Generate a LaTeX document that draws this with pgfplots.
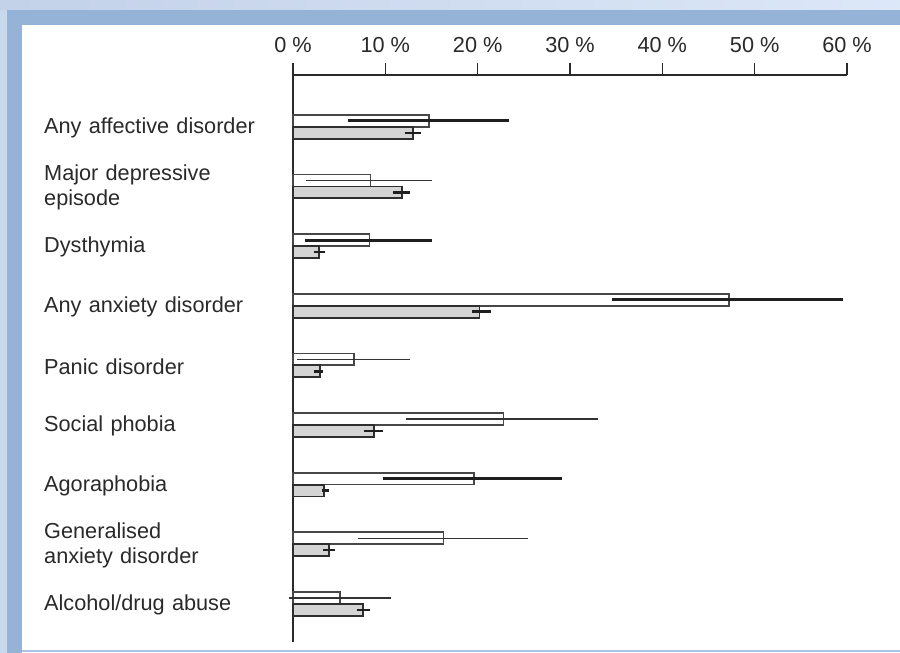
\documentclass[border=0pt]{standalone}
\usepackage{pgfplots}
\pgfplotsset{compat=1.18}
\usepackage{pgfplotstable}
\usepackage{fontspec}
\setmainfont{Liberation Sans}
\definecolor{frameblue}{HTML}{95B3D7}
\definecolor{lightblueA}{HTML}{C3D1E9}
\definecolor{lightblueB}{HTML}{DCE8F8}
\definecolor{lineblue}{HTML}{A9C4E6}
\definecolor{txt}{HTML}{2A2A2A}
\definecolor{greybar}{HTML}{D4D4D4}

% p = position (8 = top category), val = bar value, lo/hi = interval
\pgfplotstableread{
p val lo hi
8 14.7 6.0 23.4
6 8.3 1.3 15.1
5 47.2 34.6 59.6
2 19.6 9.8 29.1
}\whiteThick
\pgfplotstableread{
p val lo hi
7 8.4 1.4 15.0
4 6.6 0.4 12.7
3 22.8 12.2 33.0
1 16.3 7.0 25.4
0 5.1 -0.4 10.6
}\whiteThin
\pgfplotstableread{
p val lo hi
8 13.0 12.1 13.9
7 11.85 10.8 12.7
6 2.85 2.3 3.5
5 20.2 19.4 21.4
4 2.9 2.3 3.3
3 8.8 7.7 9.7
2 3.4 3.1 3.9
1 3.9 3.25 4.55
0 7.6 6.9 8.3
}\greyData

\begin{document}
\begin{tikzpicture}[x=1pt,y=1pt]
\useasboundingbox (0,0) rectangle (900,653);
\fill[lightblueB] (0,0) rectangle (900,653);
\shade[left color=lightblueA, right color=lightblueB] (0,643) rectangle (900,653);
\fill[lightblueA!70!lightblueB] (0,0) rectangle (7,643);
\fill[frameblue] (7,0) rectangle (900,643);
\fill[white] (22,0) rectangle (900,628);
\fill[lineblue] (22,1) rectangle (900,3);
\begin{axis}[
  scale only axis,
  width=554pt, height=567pt,
  at={(293pt,11pt)}, anchor=south west,
  xmin=0, xmax=60,
  ymin=-0.64, ymax=8.87,
  clip=false,
  axis x line*=top,
  axis y line*=left,
  axis line style={line width=2pt, color=txt},
  xtick={0,10,20,30,40,50,60},
  xticklabel={\pgfmathprintnumber{\tick} \%},
  /pgf/number format/assume math mode=true,
  tick align=outside,
  major tick length=12pt,
  xtick style={line width=1.6pt, color=txt},
  ytick={0,1,2,3,4,5,6,7,8},
  yticklabels={Alcohol/drug abuse, {Generalised\\anxiety disorder}, Agoraphobia, Social phobia, Panic disorder, Any anxiety disorder, Dysthymia, {Major depressive\\episode}, Any affective disorder},
  ytick style={draw=none},
  every tick label/.append style={font=\fontsize{21.7pt}{24.5pt}\selectfont, text=txt},
  yticklabel style={anchor=west, align=left, text width=240pt, inner sep=0pt, xshift=-237pt, yshift=-1pt},
  xticklabel style={anchor=base, inner sep=0pt, yshift=10pt},
]
\addplot[xbar, bar shift=0pt, bar width=0.2, fill=white, draw=black!72, line width=1.7pt,
  error bars/.cd, x dir=both, x explicit, error mark=none,
  error bar style={line width=2.8pt, color=black!88}]
  table[x=val, y expr=\thisrow{p}+0.1,
        x error plus expr=\thisrow{hi}-\thisrow{val},
        x error minus expr=\thisrow{val}-\thisrow{lo}] {\whiteThick};
\addplot[xbar, bar shift=0pt, bar width=0.2, fill=white, draw=black!72, line width=1.7pt,
  error bars/.cd, x dir=both, x explicit, error mark=none,
  error bar style={line width=1.5pt, color=black!80}]
  table[x=val, y expr=\thisrow{p}+0.1,
        x error plus expr=\thisrow{hi}-\thisrow{val},
        x error minus expr=\thisrow{val}-\thisrow{lo}] {\whiteThin};
\addplot[xbar, bar shift=0pt, bar width=0.2, fill=greybar, draw=black!82, line width=1.9pt,
  error bars/.cd, x dir=both, x explicit, error mark=none,
  error bar style={line width=2.4pt, color=black!88}]
  table[x=val, y expr=\thisrow{p}-0.1,
        x error plus expr=\thisrow{hi}-\thisrow{val},
        x error minus expr=\thisrow{val}-\thisrow{lo}] {\greyData};
\end{axis}
\end{tikzpicture}
\end{document}
